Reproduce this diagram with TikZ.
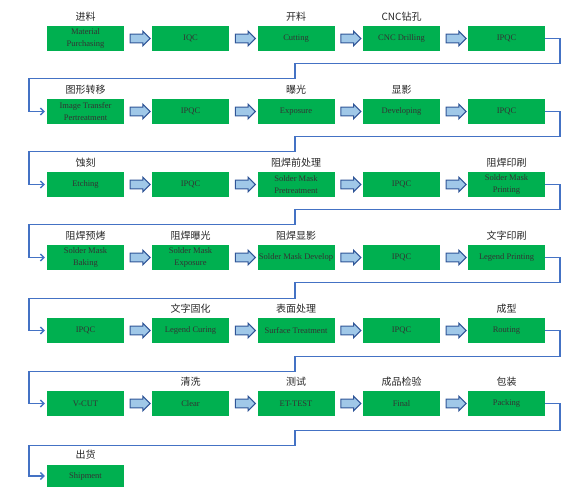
\documentclass[tikz,border=0pt]{standalone}
\usepackage{fontspec}
\setmainfont{Liberation Serif}
\setmonofont{Liberation Mono}
\newfontfamily\cjk{Noto Sans CJK SC}
\usetikzlibrary{shapes.arrows,arrows.meta,calc}
\definecolor{boxgreen}{RGB}{0,176,80}
\definecolor{arrfill}{RGB}{160,200,232}
\definecolor{arrline}{RGB}{47,85,151}
\definecolor{connblue}{RGB}{68,114,196}
\begin{document}
\begin{tikzpicture}[x=1pt,y=-1pt,
  stepbox/.style={fill=boxgreen, draw=none, minimum width=77pt, minimum height=25pt, inner sep=0pt,
    font=\rmfamily\fontsize{8.5}{11.5}\selectfont, text=black!80, align=center},
  cnlabel/.style={font=\cjk\fontsize{10}{12}\selectfont, text=black!85, inner sep=0pt},
  barrow/.style={single arrow, fill=arrfill, draw=arrline, line width=1pt,
    minimum height=20pt, inner sep=3.8pt, single arrow head extend=3pt},
  conn/.style={draw=connblue, line width=1.4pt, -{Straight Barb[length=3.5pt,width=7pt]}, shorten >=2pt}
]
\useasboundingbox (0,0) rectangle (575,487);
% column centers: 85.5, 190.5, 296, 401.5, 506.5
% row 1
\node[stepbox] (a1) at (85.5,38.5) {Material\\Purchasing};
\node[stepbox] (a2) at (190.5,38.5) {IQC};
\node[stepbox] (a3) at (296,38.5) {Cutting};
\node[stepbox] (a4) at (401.5,38.5) {CNC Drilling};
\node[stepbox] (a5) at (506.5,38.5) {IPQC};
\node[cnlabel] (la1) at (85.5,17) {进料};
\node[cnlabel] (la3) at (296,17) {开料};
\node[cnlabel] (la4) at (401.5,17) {CNC钻孔};
% row 2
\node[stepbox] (b1) at (85.5,111.5) {Image Transfer\\Pertreatment};
\node[stepbox] (b2) at (190.5,111.5) {IPQC};
\node[stepbox] (b3) at (296,111.5) {Exposure};
\node[stepbox] (b4) at (401.5,111.5) {Developing};
\node[stepbox] (b5) at (506.5,111.5) {IPQC};
\node[cnlabel] (lb1) at (85.5,90) {图形转移};
\node[cnlabel] (lb3) at (296,90) {曝光};
\node[cnlabel] (lb4) at (401.5,90) {显影};
% row 3
\node[stepbox] (c1) at (85.5,184.5) {Etching};
\node[stepbox] (c2) at (190.5,184.5) {IPQC};
\node[stepbox] (c3) at (296,184.5) {Solder Mask\\Pretreatment};
\node[stepbox] (c4) at (401.5,184.5) {IPQC};
\node[stepbox] (c5) at (506.5,184.5) {Solder Mask\\Printing};
\node[cnlabel] (lc1) at (85.5,163) {蚀刻};
\node[cnlabel] (lc3) at (296,163) {阻焊前处理};
\node[cnlabel] (lc5) at (506.5,163) {阻焊印刷};
% row 4
\node[stepbox] (d1) at (85.5,257.5) {Solder Mask\\Baking};
\node[stepbox] (d2) at (190.5,257.5) {Solder Mask\\Exposure};
\node[stepbox] (d3) at (296,257.5) {Solder Mask Develop};
\node[stepbox] (d4) at (401.5,257.5) {IPQC};
\node[stepbox] (d5) at (506.5,257.5) {Legend Printing};
\node[cnlabel] (ld1) at (85.5,236) {阻焊预烤};
\node[cnlabel] (ld2) at (190.5,236) {阻焊曝光};
\node[cnlabel] (ld3) at (296,236) {阻焊显影};
\node[cnlabel] (ld5) at (506.5,236) {文字印刷};
% row 5
\node[stepbox] (e1) at (85.5,330.5) {IPQC};
\node[stepbox] (e2) at (190.5,330.5) {Legend Curing};
\node[stepbox] (e3) at (296,330.5) {Surface Treatment};
\node[stepbox] (e4) at (401.5,330.5) {IPQC};
\node[stepbox] (e5) at (506.5,330.5) {Routing};
\node[cnlabel] (le2) at (190.5,309) {文字固化};
\node[cnlabel] (le3) at (296,309) {表面处理};
\node[cnlabel] (le5) at (506.5,309) {成型};
% row 6
\node[stepbox] (f1) at (85.5,403.5) {V-CUT};
\node[stepbox] (f2) at (190.5,403.5) {Clear};
\node[stepbox] (f3) at (296,403.5) {ET-TEST};
\node[stepbox] (f4) at (401.5,403.5) {Final};
\node[stepbox] (f5) at (506.5,403.5) {Packing};
\node[cnlabel] (lf2) at (190.5,382) {清洗};
\node[cnlabel] (lf3) at (296,382) {测试};
\node[cnlabel] (lf4) at (401.5,382) {成品检验};
\node[cnlabel] (lf5) at (506.5,382) {包装};
% row 7
\node[stepbox, minimum height=22pt] (g1) at (85.5,476) {Shipment};
\node[cnlabel] (lg1) at (85.5,455) {出货};
% block arrows
\foreach \r in {a,b,c,d,e,f}{
  \foreach \i/\j in {1/2,2/3,3/4,4/5}{
    \node[barrow] (arr\r\i) at ($(\r\i.east)!0.5!(\r\j.west)$) {};
  }
}
% row connectors
\draw[conn] (a5.east) -- (560,38.5) -- (560,63.5) -- (295,63.5) -- (295,78.5) -- (29,78.5) |- (b1.west);
\draw[conn] (b5.east) -- (560,111.5) -- (560,136.5) -- (295,136.5) -- (295,151.5) -- (29,151.5) |- (c1.west);
\draw[conn] (c5.east) -- (560,184.5) -- (560,209.5) -- (295,209.5) -- (295,224.5) -- (29,224.5) |- (d1.west);
\draw[conn] (d5.east) -- (560,257.5) -- (560,282.5) -- (295,282.5) -- (295,298.5) -- (29,298.5) |- (e1.west);
\draw[conn] (e5.east) -- (560,330.5) -- (560,356.5) -- (295,356.5) -- (295,371.5) -- (29,371.5) |- (f1.west);
\draw[conn] (f5.east) -- (560,403.5) -- (560,430.5) -- (295,430.5) -- (295,445.5) -- (29,445.5) |- (g1.west);
\end{tikzpicture}
\end{document}
